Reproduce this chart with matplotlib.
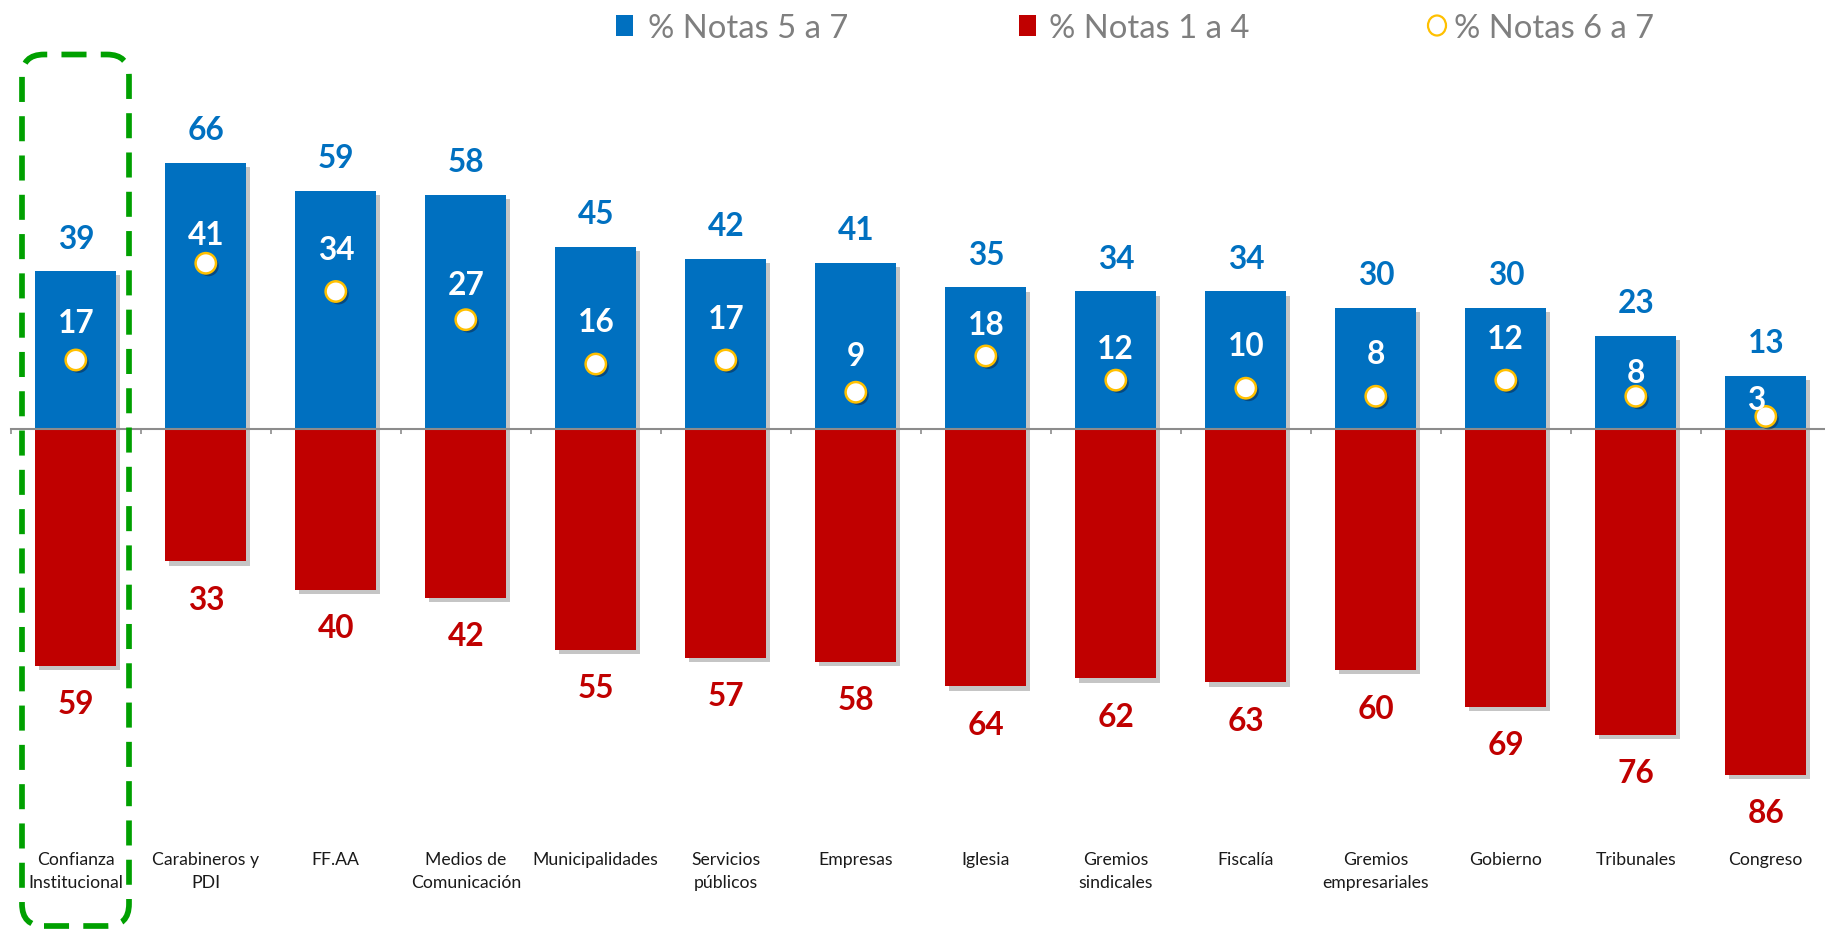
import matplotlib
matplotlib.use("Agg")
import matplotlib.pyplot as plt
import matplotlib.patheffects as pe
from matplotlib.patches import FancyBboxPatch, Rectangle, Ellipse
from matplotlib.transforms import IdentityTransform, blended_transform_factory
import numpy as np

# ---------------- data ----------------
categories = ["Confianza\nInstitucional", "Carabineros y\nPDI", "FF.AA",
              "Medios de\nComunicación", "Municipalidades", "Servicios\npúblicos",
              "Empresas", "Iglesia", "Gremios\nsindicales", "Fiscalía",
              "Gremios\nempresariales", "Gobierno", "Tribunales", "Congreso"]
notas_5_7 = [39, 66, 59, 58, 45, 42, 41, 35, 34, 34, 30, 30, 23, 13]
notas_1_4 = [59, 33, 40, 42, 55, 57, 58, 64, 62, 63, 60, 69, 76, 86]
notas_6_7 = [17, 41, 34, 27, 16, 17, 9, 18, 12, 10, 8, 12, 8, 3]
legend_labels = ["% Notas 5 a 7", "% Notas 1 a 4", "% Notas 6 a 7"]

# ---------------- layout / style ----------------
W, H = 1825, 930
BLUE, RED, GOLD, GREEN = "#0070C0", "#C00000", "#FFC000", "#00A000"
FONT = "Lato"
# inner label placement (pixels above marker, pixel x shift) as in the original
inner_dy = [38, 29, 43, 36, 43, 42, 37, 32, 32, 43, 43, 42, 24, 18]
inner_dx = [0, 0, 0, 0, 0, 0, 0, 0, 0, 0, 0, 0, 0, -10]

fig = plt.figure(figsize=(W / 100, H / 100), dpi=100)
fig.patch.set_facecolor("white")

x_left_px, step_px = 10.8, 130.0
n = len(categories)
ax = fig.add_axes([x_left_px / W, 0, n * step_px / W, 1])
ax.patch.set_visible(False)
base_px, ppu = 428.5, 4.03
ax.set_xlim(-0.5, n - 0.5)
ax.set_ylim(-(H - base_px) / ppu, base_px / ppu)

x = np.arange(n)
bw = 0.623
shadow = [pe.SimplePatchShadow(offset=(3, -3), shadow_rgbFace="#808080", alpha=0.45), pe.Normal()]
bars_up = ax.bar(x, notas_5_7, width=bw, color=BLUE, zorder=2)
bars_dn = ax.bar(x, [-v for v in notas_1_4], width=bw, color=RED, zorder=2)
for b in list(bars_up) + list(bars_dn):
    b.set_path_effects(shadow)

ax.scatter(x, notas_6_7, s=215, facecolor="white", edgecolor=GOLD, linewidth=1.8, zorder=5,
           path_effects=[pe.SimplePatchShadow(offset=(2, -2), shadow_rgbFace="#0d2a4d", alpha=0.55),
                         pe.Normal()])

# axis
for s in ["top", "right", "left"]:
    ax.spines[s].set_visible(False)
ax.spines["bottom"].set_position(("data", 0))
ax.spines["bottom"].set_color("#8c8c8c")
ax.spines["bottom"].set_linewidth(1.5)
ax.spines["bottom"].set_zorder(4)
ax.set_yticks([])
ax.set_xticks(np.arange(-0.5, n, 1.0))
ax.tick_params(axis="x", length=3.6, width=1.2, color="#8c8c8c", labelbottom=False, direction="out")

lab_kw = dict(ha="center", va="baseline", fontsize=22.8, fontweight="bold", family=FONT,
              textcoords="offset pixels")
for i in range(n):
    ax.annotate(str(notas_5_7[i]), (x[i], notas_5_7[i]), xytext=(0, 22.8), color=BLUE, **lab_kw)
    ax.annotate(str(notas_1_4[i]), (x[i], -notas_1_4[i]), xytext=(0, -48.2), color=RED, **lab_kw)
    ax.annotate(str(notas_6_7[i]), (x[i], notas_6_7[i]), xytext=(inner_dx[i], inner_dy[i] - 11.2),
                color="white", zorder=6, **lab_kw)

# category labels (each line placed on its own baseline)
tr = blended_transform_factory(ax.transData, fig.transFigure)
first_base_px, line_px = 864.5, 23.5
for i, c in enumerate(categories):
    for k, line in enumerate(c.split("\n")):
        ax.text(x[i], (H - first_base_px - k * line_px) / H, line, transform=tr,
                ha="center", va="baseline", fontsize=12.7, family=FONT, color="#1a1a1a")

# green dashed rounded box
box = FancyBboxPatch((22, H - 926), 129 - 22, 926 - 54.5,
                     boxstyle="round,pad=0,rounding_size=22", transform=IdentityTransform(),
                     fill=False, edgecolor=GREEN, linewidth=4.1, linestyle=(0, (4.4, 2.5)), zorder=10)
fig.add_artist(box)

# legend (manual)
leg_y = H - 25.5
idt = IdentityTransform()
fig.add_artist(Rectangle((616, leg_y - 10.5), 17, 21, transform=idt, facecolor=BLUE, edgecolor="none"))
fig.add_artist(Rectangle((1019, leg_y - 10.5), 17, 21, transform=idt, facecolor=RED, edgecolor="none"))
fig.add_artist(Ellipse((1437, leg_y), 18, 20, transform=idt, facecolor="white", edgecolor=GOLD, linewidth=1.6))
for xs, t in zip([648, 1049, 1454], legend_labels):
    fig.text(xs / W, (H - 37.5) / H, t, ha="left", va="baseline", fontsize=23.6,
             family=FONT, color="#7f7f7f")

fig.savefig("out.png", dpi=100, facecolor="white")
